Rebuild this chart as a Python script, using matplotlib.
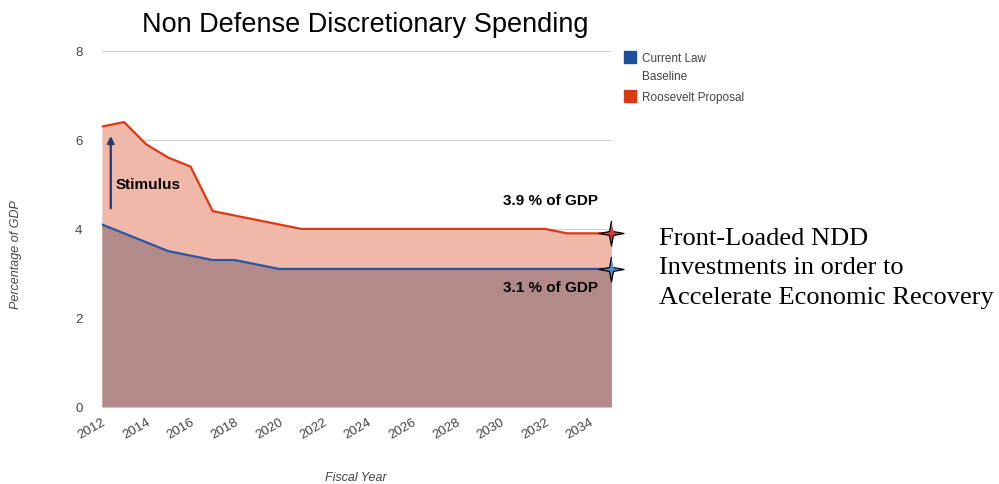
import matplotlib.pyplot as plt
import numpy as np
from matplotlib.path import Path
from matplotlib.patches import Rectangle

years = np.arange(2012, 2036)
baseline = [4.1, 3.9, 3.7, 3.5, 3.4, 3.3, 3.3, 3.2, 3.1, 3.1, 3.1, 3.1,
            3.1, 3.1, 3.1, 3.1, 3.1, 3.1, 3.1, 3.1, 3.1, 3.1, 3.1, 3.1]
roosevelt = [6.3, 6.4, 5.9, 5.6, 5.4, 4.4, 4.3, 4.2, 4.1, 4.0, 4.0, 4.0,
             4.0, 4.0, 4.0, 4.0, 4.0, 4.0, 4.0, 4.0, 4.0, 3.9, 3.9, 3.9]
tick_years = np.arange(2012, 2035, 2)
series_names = ['Current Law\nBaseline', 'Roosevelt Proposal']

# four point star marker
t = np.linspace(0, 2 * np.pi, 9)[:-1] + np.pi / 2
r = np.array([1, 0.22] * 4)
star = Path(np.column_stack([r * np.cos(t), r * np.sin(t)]))

plt.rcParams['font.family'] = ['Liberation Sans', 'DejaVu Sans']
fig = plt.figure(figsize=(9.99, 4.85), dpi=100)
ax = fig.add_axes([0.102, 0.159, 0.510, 0.734])

ax.fill_between(years, 0, roosevelt, color='#f0b8a8', lw=0)
ax.fill_between(years, 0, baseline, color='#b38a8a', lw=0)
ax.plot(years, roosevelt, color='#dc3912', lw=1.6)
ax.plot(years, baseline, color='#2a55a0', lw=1.6)

ax.plot(years[-1], roosevelt[-1], marker=star, ms=18, color='#d94040',
        mec='black', mew=0.9, clip_on=False, zorder=5)
ax.plot(years[-1], baseline[-1], marker=star, ms=18, color='#4a90d8',
        mec='black', mew=0.9, clip_on=False, zorder=5)

ax.set_xlim(2012, 2035)
ax.set_ylim(0, 8)
ax.set_yticks([0, 2, 4, 6, 8])
ax.set_xticks(tick_years)
ax.set_xticklabels([str(y) for y in tick_years], rotation=30, ha='right',
                   rotation_mode='anchor', color='#444444', fontsize=9.5)
ax.tick_params(axis='y', colors='#444444', labelsize=9.5, length=0, pad=14)
ax.tick_params(axis='x', length=0, pad=6)
ax.grid(axis='y', color='#d0d0d0', lw=0.8)
ax.set_axisbelow(True)
for s in ax.spines.values():
    s.set_visible(False)

fig.text(0.016, 0.475, 'Percentage of GDP', fontsize=9, style='italic', color='#444444',
         rotation=90, ha='center', va='center')
fig.text(0.356, 0.015, 'Fiscal Year', fontsize=9, style='italic', color='#444444',
         ha='center', va='center')

ax.annotate('', xy=(2012.4, 6.15), xytext=(2012.4, 4.4),
            arrowprops=dict(arrowstyle='-|>', color='#1f3a6e', lw=1.6, mutation_scale=10))
ax.text(2012.6, 5.0, 'Stimulus', fontsize=11, fontweight='bold', va='center')
ax.text(2034.4, 4.65, '3.9 % of GDP', fontsize=11, fontweight='bold', ha='right', va='center')
ax.text(2034.4, 2.7, '3.1 % of GDP', fontsize=11, fontweight='bold', ha='right', va='center')

fig.text(0.366, 0.948, 'Non Defense Discretionary Spending', fontsize=19.5, ha='center', va='center')

# legend: square swatch aligned with first line of each label
for name, col, ypix in zip(series_names, ['#1f4e9a', '#dc3912'], [58, 97]):
    yf = 1 - ypix / 485
    fig.add_artist(Rectangle((0.6245, yf - 0.0125), 0.0125, 0.025,
                             transform=fig.transFigure, color=col))
    fig.text(0.6425, yf + 0.011, name, fontsize=8.5, color='#444444', va='top',
             ha='left', linespacing=1.75, transform=fig.transFigure)

fig.text(0.660, 0.447, 'Front-Loaded NDD\nInvestments in order to\nAccelerate Economic Recovery',
         fontsize=19, family=['Liberation Serif'], va='center', ha='left', linespacing=1.45)

plt.savefig('out.png', dpi=100)
